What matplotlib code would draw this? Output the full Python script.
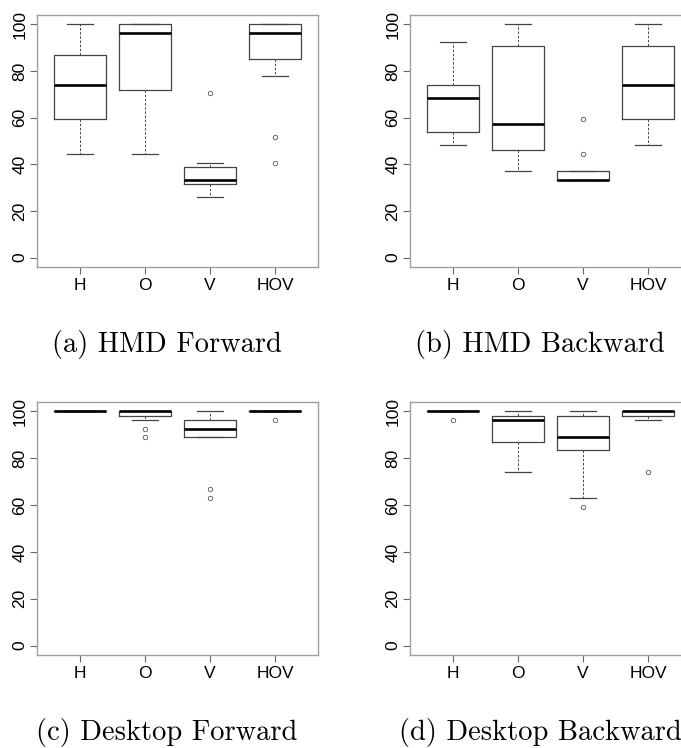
#!/usr/bin/env python3
from matplotlib import pyplot as plt

# Box summaries (percent correct, mostly k/27)
CONDS = ['H', 'O', 'V', 'HOV']

# each row: whislo, q1, med, q3, whishi, fliers
hmd_forward = [
    (44.4, 59.3, 74.1, 86.8, 100.0, []),
    (44.4, 72.0, 96.3, 100.0, 100.0, []),
    (25.9, 31.5, 33.3, 38.9, 40.7, [70.4]),
    (77.8, 85.2, 96.3, 100.0, 100.0, [51.9, 40.7]),
]
hmd_backward = [
    (48.1, 53.7, 68.5, 74.1, 92.6, []),
    (37.0, 46.3, 57.4, 90.7, 100.0, []),
    (33.3, 33.3, 33.3, 37.0, 37.0, [59.3, 44.4]),
    (48.1, 59.3, 74.1, 90.7, 100.0, []),
]
desk_forward = [
    (100.0, 100.0, 100.0, 100.0, 100.0, []),
    (96.3, 98.1, 100.0, 100.0, 100.0, [92.6, 88.9]),
    (88.9, 88.9, 92.6, 96.3, 100.0, [66.7, 63.0]),
    (100.0, 100.0, 100.0, 100.0, 100.0, [96.3]),
]
desk_backward = [
    (100.0, 100.0, 100.0, 100.0, 100.0, [96.3]),
    (74.1, 87.0, 96.3, 98.1, 100.0, []),
    (63.0, 83.3, 88.9, 98.1, 100.0, [59.3]),
    (96.3, 98.1, 100.0, 100.0, 100.0, [74.1]),
]

PANELS = [
    ('(a) HMD Forward', hmd_forward),
    ('(b) HMD Backward', hmd_backward),
    ('(c) Desktop Forward', desk_forward),
    ('(d) Desktop Backward', desk_backward),
]

W, H = 681, 748
fig = plt.figure(figsize=(W / 100, H / 100), dpi=100)

# axes boxes in pixels: left, top, width, height
boxes = [(37, 15, 281, 252), (410, 15, 281, 252),
         (37, 402, 281, 253), (410, 402, 281, 253)]
caption_pos = [(167, 352), (540, 352), (167, 740), (540, 740)]

frame_col = '#a0a0a0'
box_col = '#444444'

for (title, rows), (l, t, w, h), (cx, cy) in zip(PANELS, boxes, caption_pos):
    ax = fig.add_axes([l / W, 1 - (t + h) / H, w / W, h / H])
    stats = []
    for name, r in zip(CONDS, rows):
        stats.append(dict(label=name, whislo=r[0], q1=r[1], med=r[2],
                          q3=r[3], whishi=r[4], fliers=r[5]))
    ax.bxp(stats, positions=range(1, 5), widths=0.8,
           boxprops=dict(color=box_col, linewidth=0.9),
           medianprops=dict(color='black', linewidth=1.9, solid_capstyle='butt'),
           whiskerprops=dict(color=box_col, linewidth=0.7, linestyle=(0, (2.5, 1.8))),
           capprops=dict(color=box_col, linewidth=0.9),
           capwidths=0.4,
           flierprops=dict(marker='o', markersize=3.2, markerfacecolor='none',
                           markeredgecolor='#555555', markeredgewidth=0.6))
    ax.set_xlim(0.34, 4.66)
    ax.set_ylim(-4, 104)
    ax.set_yticks([0, 20, 40, 60, 80, 100])
    for s in ax.spines.values():
        s.set_color(frame_col)
        s.set_linewidth(1.0)
    ax.tick_params(axis='both', colors='#666666', labelcolor='black',
                   length=5, width=0.8, labelsize=12.5)
    ax.tick_params(axis='x', pad=3)
    ax.tick_params(axis='y', pad=2)
    for lab in ax.get_yticklabels():
        lab.set_rotation(90)
        lab.set_va('center')
        lab.set_family('Liberation Sans')
    for lab in ax.get_xticklabels():
        lab.set_family('Liberation Sans')
    fig.text(cx / W, 1 - cy / H, title, ha='center', va='baseline',
             family='cmr10', fontsize=20.5)

fig.savefig('out.png', dpi=100)
